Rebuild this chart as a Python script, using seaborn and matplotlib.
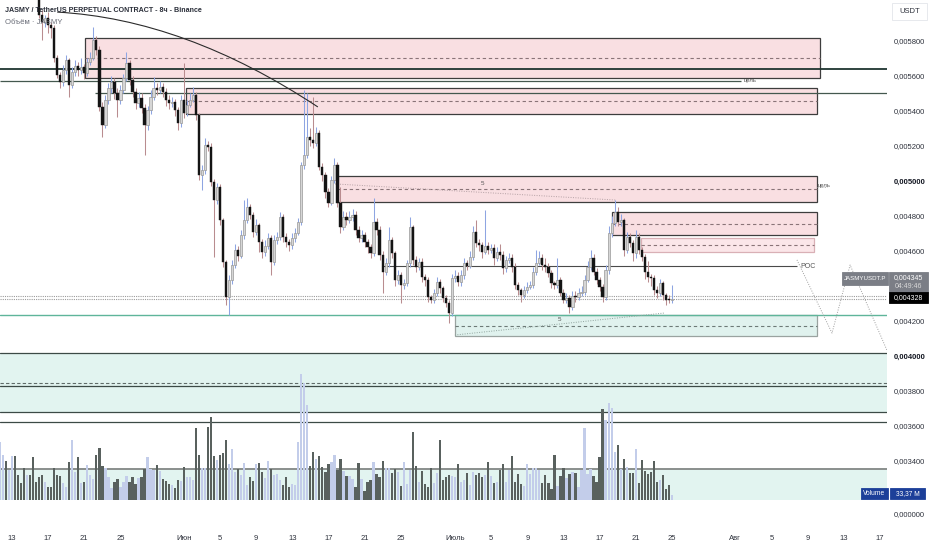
import numpy as np
import pandas as pd
import matplotlib
matplotlib.use("Agg")
import matplotlib.pyplot as plt
import matplotlib.dates as mdates
from matplotlib.patches import Rectangle, PathPatch
from matplotlib.path import Path
import seaborn as sns

# JASMYUSDT.P, 8h candles (the first 13 sit above the visible price range)
first_open = 0.006200
closes = [
    0.006250, 0.006310, 0.006280, 0.006360, 0.006410, 0.006330, 0.006270, 0.006220, 0.006180, 0.006240,
    0.006160, 0.006110, 0.006080,
    0.005949, 0.005909, 0.005931, 0.005891, 0.005874, 0.005703, 0.005606, 0.005566, 0.005634, 0.005691,
    0.005549, 0.005623, 0.005657, 0.005634, 0.005651, 0.005617, 0.005680, 0.005703, 0.005806, 0.005749,
    0.005423, 0.005320, 0.005463, 0.005531, 0.005566, 0.005503, 0.005463, 0.005520, 0.005589, 0.005674,
    0.005577, 0.005509, 0.005446, 0.005474, 0.005417, 0.005320, 0.005406, 0.005480, 0.005531, 0.005520,
    0.005537, 0.005509, 0.005463, 0.005446, 0.005451, 0.005406, 0.005331, 0.005463, 0.005389, 0.005434,
    0.005463, 0.005491, 0.005377, 0.005034, 0.005063, 0.005206, 0.005194, 0.004994, 0.004891, 0.004966,
    0.004777, 0.004537, 0.004337, 0.004434, 0.004520, 0.004606, 0.004571, 0.004691, 0.004777, 0.004851,
    0.004806, 0.004709, 0.004749, 0.004651, 0.004594, 0.004629, 0.004674, 0.004537, 0.004663, 0.004680,
    0.004794, 0.004680, 0.004651, 0.004634, 0.004674, 0.004703, 0.004766, 0.005091, 0.005149, 0.005251,
    0.005234, 0.005217, 0.005274, 0.005080, 0.005034, 0.004937, 0.004874, 0.005006, 0.005091, 0.004874,
    0.004737, 0.004794, 0.004777, 0.004794, 0.004806, 0.004720, 0.004674, 0.004691, 0.004651, 0.004623,
    0.004589, 0.004766, 0.004720, 0.004577, 0.004480, 0.004531, 0.004663, 0.004589, 0.004434, 0.004463,
    0.004406, 0.004417, 0.004531, 0.004737, 0.004549, 0.004509, 0.004537, 0.004451, 0.004434, 0.004337,
    0.004320, 0.004360, 0.004423, 0.004389, 0.004331, 0.004303, 0.004246, 0.004446, 0.004457, 0.004423,
    0.004463, 0.004531, 0.004514, 0.004566, 0.004709, 0.004646, 0.004634, 0.004594, 0.004629, 0.004606,
    0.004617, 0.004560, 0.004594, 0.004577, 0.004503, 0.004549, 0.004560, 0.004509, 0.004406, 0.004377,
    0.004349, 0.004377, 0.004394, 0.004406, 0.004480, 0.004531, 0.004560, 0.004520, 0.004509, 0.004474,
    0.004417, 0.004406, 0.004434, 0.004360, 0.004320, 0.004331, 0.004280, 0.004343, 0.004337, 0.004360,
    0.004366, 0.004434, 0.004509, 0.004560, 0.004480, 0.004434, 0.004394, 0.004337, 0.004491, 0.004703,
    0.004760, 0.004823, 0.004766, 0.004777, 0.004606, 0.004680, 0.004646, 0.004589, 0.004680, 0.004606,
    0.004566, 0.004480, 0.004451, 0.004446, 0.004377, 0.004360, 0.004417, 0.004349, 0.004320, 0.004318,
    0.004328,
]
highs = [
    0.006290, 0.006350, 0.006330, 0.006390, 0.006450, 0.006430, 0.006350, 0.006290, 0.006250, 0.006280,
    0.006260, 0.006190, 0.006140,
    0.006120, 0.005977, 0.005950, 0.005966, 0.005910, 0.005890, 0.005720, 0.005625, 0.005660, 0.005720,
    0.005705, 0.005650, 0.005690, 0.005680, 0.005700, 0.005670, 0.005700, 0.005735, 0.005880, 0.005830,
    0.005770, 0.005450, 0.005490, 0.005560, 0.005600, 0.005590, 0.005530, 0.005550, 0.005610, 0.005737,
    0.005690, 0.005600, 0.005530, 0.005510, 0.005500, 0.005440, 0.005430, 0.005520, 0.005594, 0.005560,
    0.005570, 0.005560, 0.005530, 0.005490, 0.005480, 0.005470, 0.005420, 0.005490, 0.005674, 0.005460,
    0.005500, 0.005537, 0.005510, 0.005390, 0.005090, 0.005246, 0.005230, 0.005215, 0.005010, 0.004990,
    0.004985, 0.004790, 0.004550, 0.004460, 0.004550, 0.004640, 0.004630, 0.004720, 0.004891, 0.004903,
    0.004870, 0.004820, 0.004780, 0.004760, 0.004670, 0.004660, 0.004700, 0.004690, 0.004690, 0.004710,
    0.004823, 0.004810, 0.004700, 0.004670, 0.004700, 0.004730, 0.004790, 0.005110, 0.005520, 0.005503,
    0.005300, 0.005480, 0.005310, 0.005290, 0.005100, 0.005050, 0.004960, 0.005030, 0.005131, 0.005110,
    0.004966, 0.004830, 0.004820, 0.004830, 0.004840, 0.004830, 0.004740, 0.004720, 0.004710, 0.004670,
    0.004640, 0.004903, 0.004790, 0.004740, 0.004600, 0.004560, 0.004737, 0.004680, 0.004600, 0.004490,
    0.004480, 0.004440, 0.004550, 0.004794, 0.004750, 0.004570, 0.004560, 0.004560, 0.004470, 0.004450,
    0.004350, 0.004380, 0.004450, 0.004440, 0.004400, 0.004350, 0.004320, 0.004470, 0.004490, 0.004480,
    0.004490, 0.004560, 0.004550, 0.004600, 0.004740, 0.004777, 0.004670, 0.004650, 0.004834, 0.004650,
    0.004640, 0.004640, 0.004620, 0.004640, 0.004600, 0.004570, 0.004590, 0.004580, 0.004530, 0.004420,
    0.004390, 0.004400, 0.004420, 0.004430, 0.004510, 0.004606, 0.004600, 0.004580, 0.004560, 0.004530,
    0.004490, 0.004430, 0.004560, 0.004450, 0.004380, 0.004360, 0.004350, 0.004370, 0.004370, 0.004390,
    0.004400, 0.004460, 0.004540, 0.004606, 0.004580, 0.004500, 0.004450, 0.004410, 0.004520, 0.004740,
    0.004800, 0.004891, 0.004850, 0.004810, 0.004790, 0.004710, 0.004700, 0.004660, 0.004720, 0.004700,
    0.004620, 0.004580, 0.004540, 0.004470, 0.004460, 0.004400, 0.004440, 0.004430, 0.004360, 0.004350,
    0.004406,
]
lows = [
    0.006180, 0.006220, 0.006240, 0.006260, 0.006330, 0.006300, 0.006240, 0.006190, 0.006150, 0.006160,
    0.006130, 0.006080, 0.006060,
    0.005930, 0.005806, 0.005880, 0.005846, 0.005817, 0.005680, 0.005590, 0.005531, 0.005540, 0.005610,
    0.005480, 0.005530, 0.005600, 0.005600, 0.005610, 0.005580, 0.005600, 0.005660, 0.005690, 0.005720,
    0.005400, 0.005251, 0.005300, 0.005440, 0.005500, 0.005470, 0.005366, 0.005440, 0.005500, 0.005570,
    0.005550, 0.005480, 0.005410, 0.005420, 0.005390, 0.005149, 0.005290, 0.005380, 0.005460, 0.005490,
    0.005500, 0.005480, 0.005430, 0.005410, 0.005420, 0.005370, 0.005290, 0.005310, 0.005360, 0.005370,
    0.005420, 0.005450, 0.005350, 0.005006, 0.004949, 0.005040, 0.005170, 0.004970, 0.004566, 0.004870,
    0.004750, 0.004510, 0.004290, 0.004234, 0.004410, 0.004500, 0.004540, 0.004560, 0.004670, 0.004760,
    0.004780, 0.004680, 0.004690, 0.004594, 0.004560, 0.004570, 0.004610, 0.004463, 0.004520, 0.004640,
    0.004660, 0.004650, 0.004620, 0.004600, 0.004610, 0.004650, 0.004690, 0.004750, 0.005070, 0.005130,
    0.005200, 0.005190, 0.005200, 0.005060, 0.005000, 0.004900, 0.004850, 0.004860, 0.004990, 0.004850,
    0.004700, 0.004720, 0.004750, 0.004760, 0.004770, 0.004690, 0.004650, 0.004650, 0.004620, 0.004590,
    0.004560, 0.004570, 0.004690, 0.004550, 0.004360, 0.004460, 0.004510, 0.004560, 0.004400, 0.004410,
    0.004303, 0.004380, 0.004400, 0.004510, 0.004520, 0.004480, 0.004490, 0.004420, 0.004400, 0.004310,
    0.004300, 0.004300, 0.004340, 0.004360, 0.004310, 0.004280, 0.004189, 0.004230, 0.004420, 0.004400,
    0.004400, 0.004440, 0.004490, 0.004500, 0.004550, 0.004620, 0.004600, 0.004560, 0.004580, 0.004580,
    0.004590, 0.004520, 0.004540, 0.004550, 0.004470, 0.004480, 0.004530, 0.004480, 0.004380, 0.004350,
    0.004309, 0.004330, 0.004360, 0.004380, 0.004390, 0.004460, 0.004520, 0.004490, 0.004480, 0.004450,
    0.004390, 0.004380, 0.004390, 0.004340, 0.004300, 0.004300, 0.004246, 0.004260, 0.004310, 0.004320,
    0.004340, 0.004350, 0.004420, 0.004490, 0.004460, 0.004410, 0.004370, 0.004310, 0.004320, 0.004470,
    0.004680, 0.004740, 0.004740, 0.004740, 0.004570, 0.004590, 0.004620, 0.004540, 0.004560, 0.004580,
    0.004540, 0.004440, 0.004420, 0.004400, 0.004350, 0.004330, 0.004340, 0.004320, 0.004291, 0.004300,
    0.004305,
]
# volume, millions
volumes = [
    406, 315, 273, 210, 308, 308, 175, 119, 224, 175, 175, 301, 126, 161, 175, 126, 91, 91, 224, 175,
    168, 119, 91, 266, 420, 196, 301, 119, 126, 245, 175, 147, 315, 364, 238, 224, 161, 84, 126, 147,
    91, 126, 168, 126, 161, 112, 154, 161, 217, 301, 217, 210, 245, 203, 147, 133, 112, 105, 84, 140,
    133, 231, 161, 161, 140, 504, 315, 224, 224, 511, 581, 308, 280, 315, 329, 420, 252, 357, 196, 217,
    175, 259, 105, 161, 133, 252, 259, 196, 154, 273, 217, 175, 182, 140, 105, 161, 91, 112, 105, 406,
    882, 819, 665, 238, 336, 287, 308, 231, 196, 252, 266, 315, 210, 287, 203, 168,
    168, 147, 91, 259, 147, 63, 126, 140, 266, 182, 161, 273, 224, 224, 189, 217, 196, 98, 266, 112,
    210, 476, 238, 126, 203, 112, 91, 224, 119, 189, 420, 140, 161, 175, 168, 161, 252, 126, 140, 189,
    105, 196, 175, 189, 161, 175, 266, 168, 119, 126, 210, 252, 126, 210, 308, 126, 182, 112, 98, 252,
    182, 224, 224, 210, 119, 175, 119, 77, 315, 98, 168, 224, 154, 182, 196, 189, 91, 210, 504, 182,
    217, 168, 126, 301, 637, 560, 679, 644, 336, 385, 217, 287, 231, 189, 189, 357, 119, 280, 203, 182,
    196, 273, 126, 140, 175, 77, 105, 33.37,
]

times = pd.date_range("2024-05-11 16:00", periods=len(closes), freq="8h")

x_tick_dates = ["2024-05-13", "2024-05-17", "2024-05-21", "2024-05-25", "2024-06-01", "2024-06-05",
                "2024-06-09", "2024-06-13", "2024-06-17", "2024-06-21", "2024-06-25", "2024-07-01",
                "2024-07-05", "2024-07-09", "2024-07-13", "2024-07-17", "2024-07-21", "2024-07-25",
                "2024-08-01", "2024-08-05", "2024-08-09", "2024-08-13", "2024-08-17"]
x_tick_labels = ["13", "17", "21", "25", "Июн", "5", "9", "13", "17", "21", "25", "Июль",
                 "5", "9", "13", "17", "21", "25", "Авг", "5", "9", "13", "17"]
price_ticks = [0.0058, 0.0056, 0.0054, 0.0052, 0.0050, 0.0048, 0.0046,
               0.0042, 0.0040, 0.0038, 0.0036, 0.0034]
vol_zero_price = 0.0030971

# drawn zones (pink = resistance, last one mint = support)
zone_start = ["2024-05-21 02:00", "2024-06-01 06:00", "2024-06-17 23:00", "2024-07-18 09:00",
              "2024-07-21 14:00", "2024-07-01 00:00"]
zone_end = ["2024-08-10 09:00", "2024-08-10 01:00", "2024-08-10 01:00", "2024-08-10 01:00",
            "2024-08-09 17:00", "2024-08-10 01:00"]
zone_top = [0.005817, 0.005531, 0.005029, 0.004823, 0.004674, 0.004234]
zone_bottom = [0.005589, 0.005383, 0.004880, 0.004691, 0.004594, 0.004114]

sns.set_theme(style="white")
plt.rcParams["font.family"] = ["Liberation Sans", "DejaVu Sans"]

W, H = 932, 550
fig = plt.figure(figsize=(W / 100, H / 100), dpi=100)
ax = fig.add_axes([0, 23 / H, 887 / W, 527 / H])
axv = ax.twinx()

t = mdates.date2num(times)
c = np.array(closes)
o = np.concatenate([[first_open], c[:-1]])
hi = np.array(highs)
lo = np.array(lows)
up = c >= o

x0 = mdates.date2num(pd.Timestamp("2024-05-11 16:10"))
x1 = mdates.date2num(pd.Timestamp("2024-08-17 19:00"))
d = lambda s: mdates.date2num(pd.Timestamp(s))

# horizontal zones at the bottom
ax.axhspan(0.003680, 0.004017, color="#e2f4f0", lw=0, zorder=0)
ax.axhspan(0.003177, 0.003354, color="#e2f4f0", lw=0, zorder=0)
for lvl in [0.004017, 0.003829, 0.003680, 0.003623]:
    ax.axhline(lvl, color="#3c4a46", lw=0.9, zorder=1)
ax.axhline(0.003354, color="#8a8f8d", lw=1.4, zorder=1)
ax.axhline(0.003846, color="#5f6b68", lw=0.8, ls=(0, (3, 2)), zorder=1)

# boxes
for k in range(len(zone_top)):
    s, e = d(zone_start[k]), d(zone_end[k])
    if k == 5:
        fc, ec = "#e0f2ee", "#9aa3a0"
    elif k == 4:
        fc, ec = "#fbe6e9", "#d9b0b6"
    else:
        fc, ec = "#f9dfe2", "#3d3d3d"
    ax.add_patch(Rectangle((s, zone_bottom[k]), e - s, zone_top[k] - zone_bottom[k],
                           fc=fc, ec=ec, lw=0.9, zorder=1))
    mid = (zone_top[k] + zone_bottom[k]) / 2
    ax.hlines(mid, s, e, colors="#8a7478" if k < 5 else "#6d7a77", lw=0.8,
              linestyles=(0, (3, 2.5)), zorder=1.5)

# levels
ax.axhline(0.005640, color="#1f3530", lw=1.3, zorder=2)
ax.hlines(0.005571, x0, d("2024-08-01 15:00"), colors="#44584f", lw=0.9, zorder=2)
ax.hlines(0.005503, d("2024-05-22 04:00"), x1, colors="#44584f", lw=0.9, zorder=2)
ax.hlines(0.004514, d("2024-06-23 01:00"), d("2024-08-07 20:00"), colors="#4a4a4a", lw=0.8, zorder=2)
ax.axhline(0.004234, color="#5fb59a", lw=1.0, zorder=2)
ax.axhline(0.004345, color="#9a9a9a", lw=0.8, ls=(0, (1, 1)), zorder=2)
ax.axhline(0.004328, color="#9a9a9a", lw=0.8, ls=(0, (1, 1)), zorder=2)

# dotted trend / projection lines
ax.plot([d("2024-06-17 18:00"), d("2024-07-18 19:00")], [0.004983, 0.004891],
        color="#b4a0a4", lw=0.7, ls=(0, (1, 1.5)), zorder=2)
ax.plot([d("2024-07-01 00:00"), d("2024-07-24 06:00")], [0.004120, 0.004246],
        color="#8fa39d", lw=0.7, ls=(0, (1, 1.5)), zorder=2)
ax.plot([d("2024-08-07 20:00"), d("2024-08-11 17:00"), d("2024-08-13 17:00"), d("2024-08-17 22:00")],
        [0.004549, 0.004131, 0.004520, 0.004017], color="#a0a0a0", lw=0.7, ls=(0, (1, 1.5)), zorder=2)
ax.plot([d("2024-08-10 02:00"), d("2024-08-11 04:00")], [0.004966, 0.004966],
        color="#a0a0a0", lw=0.7, ls=(0, (1, 1.5)), zorder=2)

# arc
arc = Path([(d("2024-05-18 00:00"), 0.005965), (d("2024-06-01 03:00"), 0.005925),
            (d("2024-06-15 20:00"), 0.005423)], [Path.MOVETO, Path.CURVE3, Path.CURVE3])
ax.add_patch(PathPatch(arc, fc="none", ec="#2b2b2b", lw=0.8, zorder=5))

# candles
body_lo = np.minimum(o, c)
body_h = np.maximum(np.abs(c - o), 0.000005)
ax.vlines(t[up], lo[up], hi[up], color="#8ea5e2", lw=0.75, zorder=3)
ax.vlines(t[~up], lo[~up], hi[~up], color="#b98c8f", lw=0.75, zorder=3)
ax.bar(t[up], body_h[up], bottom=body_lo[up], width=0.25, color="#d6d6d6",
       edgecolor="#989898", linewidth=0.5, zorder=4)
ax.bar(t[~up], body_h[~up], bottom=body_lo[~up], width=0.25, color="#141414",
       edgecolor="#141414", linewidth=0.3, zorder=4)

# volume
vol_df = pd.DataFrame({"t": t, "volume": volumes, "side": np.where(up, "up", "down")})
sns.histplot(data=vol_df, x="t", weights="volume", binwidth=1 / 3,
             binrange=(t[0] - 1 / 6, t[-1] + 1 / 6), hue="side",
             palette={"up": "#c3cdea", "down": "#59615e"}, shrink=0.75, alpha=1,
             linewidth=0, legend=False, ax=axv)
axv.set_ylim(-189, 3500)
axv.set_axis_off()

ax.set_xlim(x0, x1)
ax.set_ylim(0.003023, 0.006034)

# small labels
lab = dict(fontsize=4.3, color="#555555", zorder=6)
ax.text(d("2024-08-01 22:00"), 0.005575, "цель", va="center", **lab)
ax.text(d("2024-08-10 03:00"), 0.004972, "цель", va="center", **lab)
ax.text(d("2024-08-08 06:00"), 0.004514, "POC", va="center", fontsize=5, color="#555555")
ax.text(d("2024-07-04 00:00"), 0.004985, "5", ha="center", va="center", fontsize=4.5, color="#555555")
ax.text(d("2024-07-12 14:00"), 0.004211, "5", ha="center", va="center", fontsize=4.5, color="#555555")

# axes
ax.yaxis.tick_right()
ax.set_yticks(price_ticks + [vol_zero_price])
ax.set_yticklabels([f"{p:.6f}".replace(".", ",") for p in price_ticks] + ["0,000000"])
ax.set_xticks([d(s) for s in x_tick_dates])
ax.set_xticklabels(x_tick_labels)
ax.tick_params(axis="y", length=0, pad=4.5, labelsize=5.5, labelcolor="#2e323c")
ax.tick_params(axis="x", length=0, pad=5.5, labelsize=5.5, labelcolor="#2e323c")
for tl in ax.get_yticklabels():
    if tl.get_text() in ("0,005000", "0,004000"):
        tl.set_fontweight("bold")
        tl.set_color("#131722")
for sp in ax.spines.values():
    sp.set_visible(False)
ax.set_xlabel("")
ax.set_ylabel("")


def box(xa, ya, xb, yb, fc, ec=None):
    fig.add_artist(Rectangle((xa / W, 1 - yb / H), (xb - xa) / W, (yb - ya) / H,
                             transform=fig.transFigure, fc=fc, ec=ec or fc, lw=0.6, zorder=10))


def label(x, y, s, **kw):
    fig.text(x / W, 1 - y / H, s, ha="center", va="center", zorder=11, **kw)


box(842, 272, 888, 285, "#7b7e86")
label(865, 278.7, "JASMYUSDT.P", fontsize=4.4, color="white")
box(889, 272, 928, 292, "#7b7e86")
label(908.5, 277.5, "0,004345", fontsize=5, color="white")
label(908.5, 286.5, "04:49:46", fontsize=5, color="#d8d8d8")
box(889, 292, 928, 303, "#000000")
label(908.5, 297.7, "0,004328", fontsize=5, color="white")
box(861, 488, 888, 499, "#1c3f99")
label(874.5, 493.7, "Volume", fontsize=4.8, color="white")
box(890, 488, 925, 499, "#1c3f99")
label(907.5, 493.7, "33,37 M", fontsize=4.8, color="white")
box(892, 3, 927, 20, "white", "#e3e5ea")
label(909.5, 11.5, "USDT", fontsize=5.5, color="#2e323c")

fig.text(5 / W, 1 - 11 / H, "JASMY / TetherUS PERPETUAL CONTRACT - 8ч - Binance",
         fontsize=5.1, fontweight="bold", color="#2a2e39", va="center")
fig.text(5 / W, 1 - 23 / H, "Объём · JASMY", fontsize=5.6, color="#6a6d78", va="center")

fig.savefig("out.png", dpi=100)
